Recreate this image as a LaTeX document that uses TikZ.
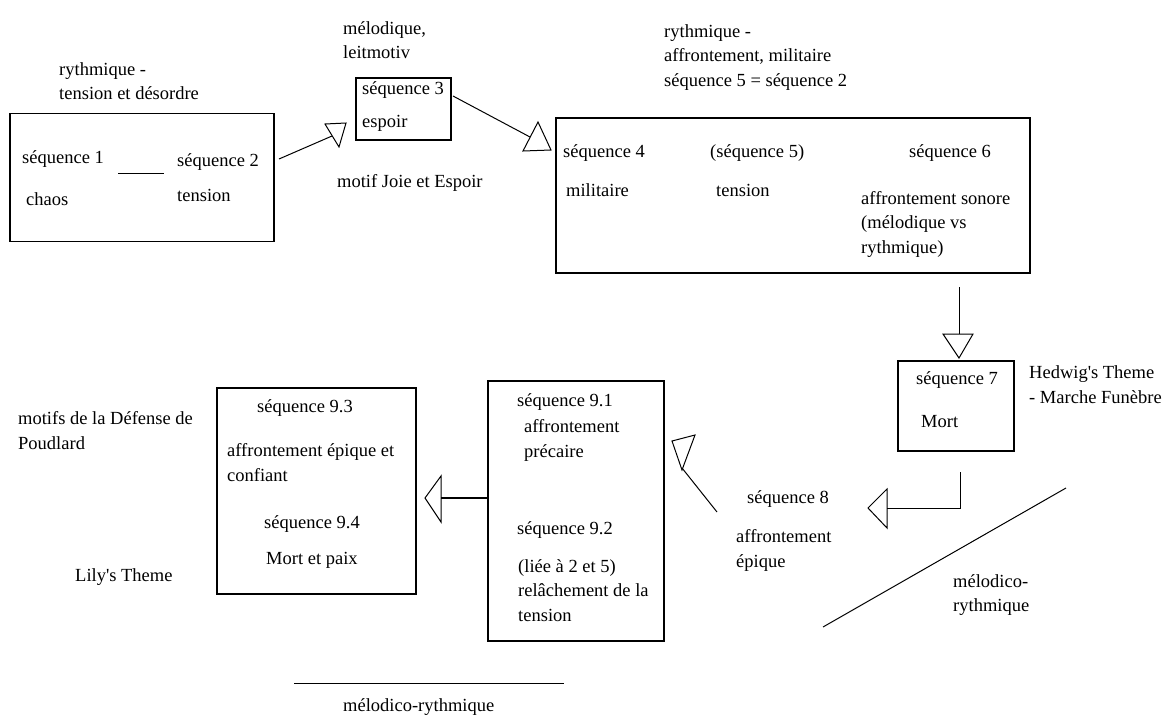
\documentclass[tikz,border=0pt]{standalone}
\usepackage{fontspec}
\setmainfont{Liberation Serif}[Ligatures=TeXOff]
\begin{document}
\begin{tikzpicture}[x=1pt,y=-1pt,
  box/.style={draw,line width=1.2pt,rectangle,inner sep=0pt},
  lbl/.style={anchor=west,inner sep=0pt,align=left,font=\fontsize{18.5}{24.5}\selectfont},
  conn/.style={line width=1pt},
  head/.style={line width=1pt,line join=miter}]
\useasboundingbox (0,0) rectangle (1164,716);
% boxes
\node[box,minimum width=264pt,minimum height=128pt] (b1) at (142,177.5) {};
\node[box,minimum width=95pt,minimum height=62pt] (b3) at (403.5,109) {};
\node[box,minimum width=474pt,minimum height=155pt] (b4) at (793,195.5) {};
\node[box,minimum width=116pt,minimum height=90pt] (b7) at (956,406) {};
\node[box,minimum width=176pt,minimum height=260pt] (b91) at (576,511) {};
\node[box,minimum width=199pt,minimum height=206pt] (b93) at (316.5,491) {};
% texts box 1
\node[lbl] (t1a) at (22,159) {séquence 1};
\node[lbl] (t1b) at (26,199) {chaos};
\node[lbl] (t2a) at (177,162) {séquence 2};
\node[lbl] (t2b) at (177,195) {tension};
\coordinate (s1) at (118,173);
\coordinate (s2) at (164,173);
\draw[conn] (s1) -- (s2);
\node[lbl] (r1) at (59,81) {rythmique -\\tension et désordre};
% box 3
\node[lbl] (t3a) at (362,90) {séquence 3};
\node[lbl] (t3b) at (362,123) {espoir};
\node[lbl] (m1) at (343,40) {mélodique,\\leitmotiv};
\node[lbl] (m2) at (337,183) {motif Joie et Espoir};
% box 4
\node[lbl] (t4a) at (563,153) {séquence 4};
\node[lbl] (t4b) at (566,190) {militaire};
\node[lbl] (t5a) at (710,153) {(séquence 5)};
\node[lbl] (t5b) at (716,190) {tension};
\node[lbl] (t6a) at (909,153) {séquence 6};
\node[lbl] (t6b) at (861,224) {affrontement sonore\\(mélodique vs\\rythmique)};
\node[lbl] (r2) at (664,57.5) {rythmique -\\affrontement, militaire\\séquence 5 = séquence 2};
% box 7
\node[lbl] (t7a) at (916,380) {séquence 7};
\node[lbl] (t7b) at (921,422) {Mort};
\node[lbl] (h1) at (1029,384.5) {Hedwig's Theme\\- Marche Funèbre};
% seq 8
\node[lbl] (t8a) at (747,499) {séquence 8};
\node[lbl] (t8b) at (736,550.5) {affrontement\\épique};
\node[lbl] (mr1) at (953,595) {mélodico-\\rythmique};
% box 9.1
\node[lbl] (t91a) at (517,402) {séquence 9.1};
\node[lbl] (t91b) at (524,440.5) {affrontement\\précaire};
\node[lbl] (t92a) at (517,530) {séquence 9.2};
\node[lbl] (t92b) at (518,590.5) {(liée à 2 et 5)\\relâchement de la\\tension};
% box 9.3
\node[lbl] (t93a) at (257,408) {séquence 9.3};
\node[lbl] (t93b) at (227,462.5) {affrontement épique et\\confiant};
\node[lbl] (t94a) at (264,524) {séquence 9.4};
\node[lbl] (t94b) at (266,560) {Mort et paix};
\node[lbl] (p1) at (18,430.5) {motifs de la Défense de\\Poudlard};
\node[lbl] (l1) at (75,577) {Lily's Theme};
\node[lbl] (mr2) at (343,707) {mélodico-rythmique};
% lines
\coordinate (d1) at (823,627);
\coordinate (d2) at (1066,488);
\draw[conn] (d1) -- (d2);
\coordinate (e1) at (294,683);
\coordinate (e2) at (564,683);
\draw[conn] (e1) -- (e2);
% arrow 1
\coordinate (a1s) at (279,159);
\coordinate (a1e) at (332,136);
\draw[conn] (a1s) -- (a1e);
\draw[head] (325,124) -- (346,123) -- (339,147) -- cycle;
% arrow 2
\coordinate (a2s) at (453,96);
\coordinate (a2e) at (530,137);
\draw[conn] (a2s) -- (a2e);
\draw[head] (538,122) -- (551,150) -- (523,151) -- cycle;
% arrow 3
\coordinate (a3s) at (959,287);
\coordinate (a3e) at (959,334);
\draw[conn] (a3s) -- (a3e);
\draw[head] (943,334) -- (973,334) -- (959,358) -- cycle;
% arrow 4
\coordinate (a4s) at (960,472);
\coordinate (a4e) at (887,508);
\draw[conn] (a4s) |- (a4e);
\draw[head] (887,489) -- (887,528) -- (868,508) -- cycle;
% arrow 5
\coordinate (a5s) at (717,512);
\coordinate (a5e) at (682,468);
\draw[conn] (a5s) -- (a5e);
\draw[head] (672,441) -- (695,435) -- (682,470) -- cycle;
% arrow 6
\coordinate (a6s) at (488,498);
\coordinate (a6e) at (441,498);
\draw[conn,line width=1.5pt] (a6s) -- (a6e);
\draw[head] (441,476) -- (441,522) -- (425,498) -- cycle;
\end{tikzpicture}
\end{document}
